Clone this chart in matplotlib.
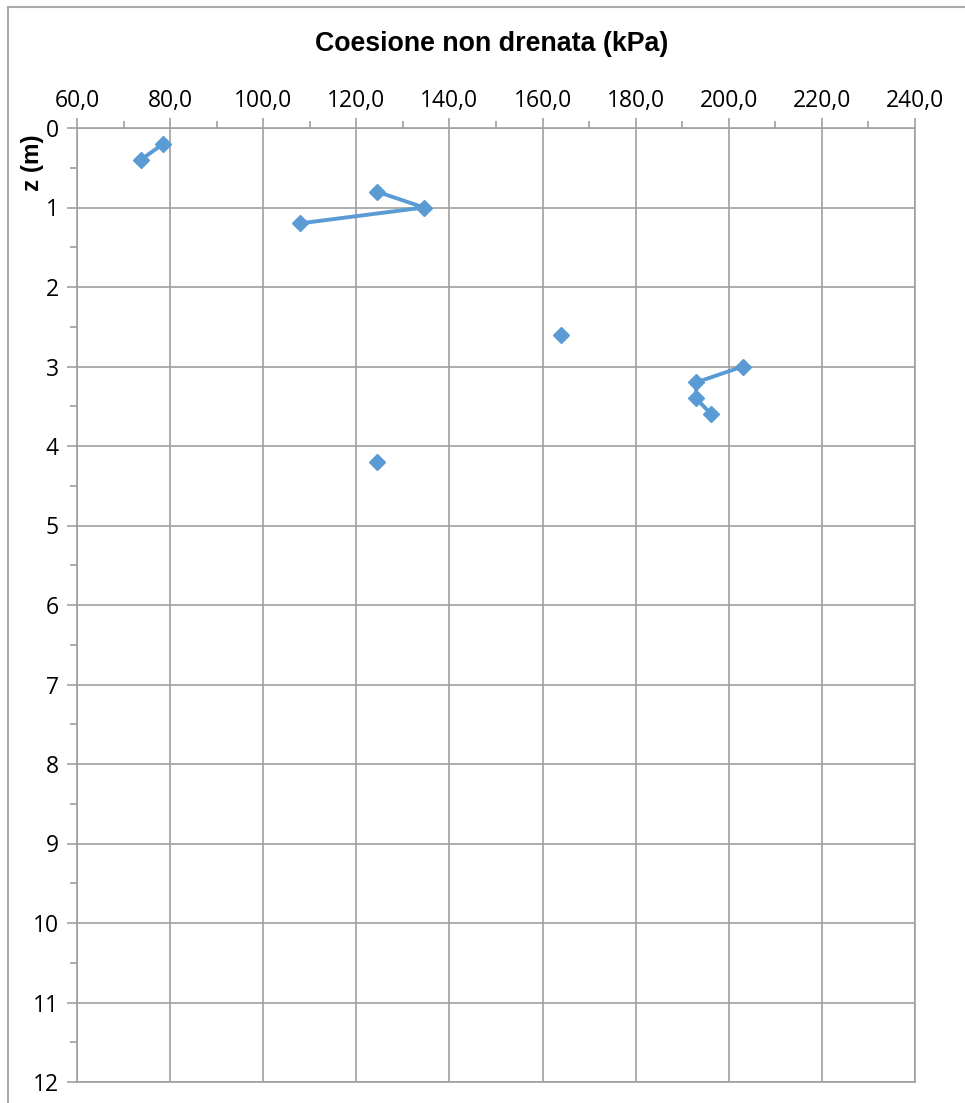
import numpy as np
import matplotlib
matplotlib.use("Agg")
import matplotlib.pyplot as plt
from matplotlib.patches import Rectangle
from matplotlib.ticker import MultipleLocator, FuncFormatter

# depth (m) vs undrained cohesion (kPa); NaN breaks the line between layers
z = [0.2, 0.4, np.nan, 0.8, 1.0, 1.2, np.nan, 2.6, np.nan, 3.0, 3.2, 3.4, 3.6, np.nan, 4.2]
cu = [78.5, 73.7, np.nan, 124.4, 134.5, 107.9, np.nan, 163.9, np.nan, 203.0, 193.0, 193.0, 196.2, np.nan, 124.4]

blue = "#5B9BD5"
grid_col = "#A0A0A0"

fig = plt.figure(figsize=(9.65, 11.03), dpi=100)
fig.patches.append(Rectangle((8 / 965, -0.1), 1.2, 1 - 7 / 1103 + 0.1,
                             transform=fig.transFigure, fill=False,
                             edgecolor="#ABABAB", linewidth=1.5))

ax = fig.add_axes([77 / 965, 1 - 1082 / 1103, (915 - 77) / 965, (1082 - 128) / 1103])
ax.plot(cu, z, color=blue, linewidth=2.8, marker="D", markersize=8.5,
        markerfacecolor=blue, markeredgecolor=blue)

ax.set_xlim(60, 240)
ax.set_ylim(12, 0)
ax.xaxis.set_major_locator(MultipleLocator(20))
ax.xaxis.set_minor_locator(MultipleLocator(10))
ax.yaxis.set_major_locator(MultipleLocator(1))
ax.yaxis.set_minor_locator(MultipleLocator(0.5))
ax.xaxis.set_major_formatter(FuncFormatter(lambda v, p: f"{v:.1f}".replace(".", ",")))
ax.xaxis.tick_top()

ax.grid(True, which="major", color=grid_col, linewidth=1.2)
ax.set_axisbelow(True)
for s in ax.spines.values():
    s.set_color(grid_col)
    s.set_linewidth(1.2)

ax.tick_params(axis="both", which="both", direction="out", color=grid_col, width=1.2)
ax.tick_params(axis="both", which="major", length=7, labelsize=16.5, pad=6)
ax.tick_params(axis="x", which="major", pad=4)
ax.tick_params(axis="both", which="minor", length=5)
for lab in ax.get_xticklabels() + ax.get_yticklabels():
    lab.set_family("Open Sans")

fig.text(492 / 965, 1 - 44 / 1103, "Coesione non drenata (kPa)", ha="center", va="center",
         fontsize=19.3, fontweight="bold", family="Liberation Sans")
fig.text(33 / 965, 1 - 163 / 1103, "z (m)", ha="center", va="center", rotation=90,
         fontsize=17.5, fontweight="bold", family="Liberation Sans")

fig.savefig("out.png", dpi=100)
